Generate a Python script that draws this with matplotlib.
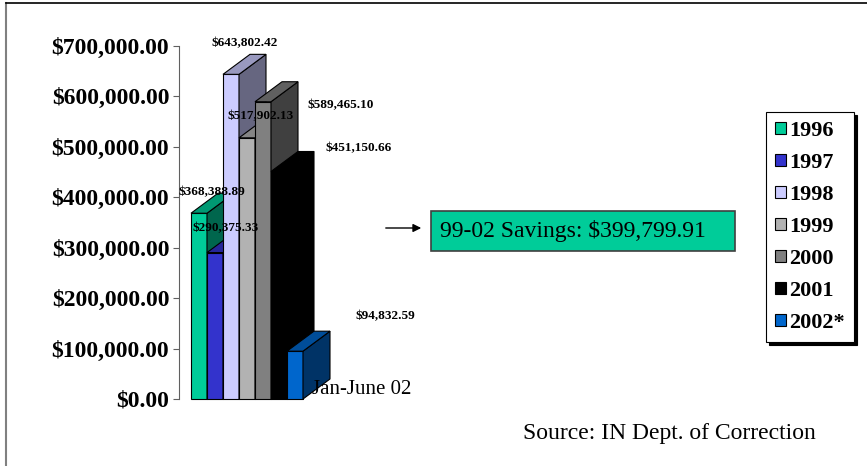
import matplotlib
matplotlib.use("Agg")
import matplotlib.pyplot as plt
from matplotlib.patches import Polygon, Rectangle, Patch, FancyArrowPatch
from matplotlib.lines import Line2D
from matplotlib.ticker import FuncFormatter
from matplotlib import colors as mcolors

years = ["1996", "1997", "1998", "1999", "2000", "2001", "2002*"]
costs = [368388.89, 290375.33, 643802.42, 517902.13, 589465.10, 451150.66, 94832.59]
bar_colors = ["#00CC99", "#3333CC", "#CCCCFF", "#B2B2B2", "#808080", "#000000", "#0066CC"]
category = "Jan-June 02"
savings_text = "99-02 Savings: $399,799.91"
source_text = "Source: IN Dept. of Correction"

# label offsets in pixels from the front top centre of each bar
label_offsets = [(13, 21), (11, 24), (14, 31), (14, 22), (78, -3), (80, 23), (90, 35)]

plt.rcParams["font.family"] = ["Liberation Serif", "DejaVu Serif"]

W, H = 867, 466
fig = plt.figure(figsize=(W / 100, H / 100), dpi=100)

# plot area in pixels
left_px, right_px, top_px, bottom_px = 179, 420, 46, 399
ax = fig.add_axes([left_px / W, 1 - bottom_px / H,
                   (right_px - left_px) / W, (bottom_px - top_px) / H])
unit_px = 16.0
x0 = -12 / unit_px
ax.set_xlim(x0, x0 + (right_px - left_px) / unit_px)
ax.set_ylim(0, 700000)

depth_x = 27 / unit_px
depth_y = 20 / (bottom_px - top_px) * 700000


def shade(c, f):
    r, g, b = mcolors.to_rgb(c)
    return (r * f, g * f, b * f)


for i, (v, c) in enumerate(zip(costs, bar_colors)):
    z = 2 + i
    bar = ax.bar(i, v, width=1, align="edge", color=c, edgecolor="black",
                 linewidth=0.8, zorder=z)
    bar[0].set_clip_on(False)
    side = Polygon([(i + 1, 0), (i + 1 + depth_x, depth_y),
                    (i + 1 + depth_x, v + depth_y), (i + 1, v)],
                   closed=True, facecolor=shade(c, 0.5), edgecolor="black",
                   linewidth=0.8, zorder=z, clip_on=False)
    top = Polygon([(i, v), (i + 1, v), (i + 1 + depth_x, v + depth_y),
                   (i + depth_x, v + depth_y)],
                  closed=True, facecolor=shade(c, 0.75), edgecolor="black",
                  linewidth=0.8, zorder=z, clip_on=False)
    ax.add_patch(side)
    ax.add_patch(top)
    dxo, dyo = label_offsets[i]
    ax.annotate(f"${v:,.2f}", xy=(i + 0.5, v), xytext=(dxo, dyo),
                textcoords="offset pixels", ha="center", va="center",
                fontsize=9.5, fontweight="bold", zorder=20,
                annotation_clip=False)

ax.yaxis.set_major_formatter(FuncFormatter(lambda v, p: f"${v:,.2f}"))
ax.set_yticks(range(0, 700001, 100000))
ax.set_xticks([])
for s in ["top", "right", "bottom"]:
    ax.spines[s].set_visible(False)
ax.spines["left"].set_color("#606060")
ax.tick_params(axis="y", direction="out", length=4, color="#606060",
               labelsize=17, pad=3)
for t in ax.get_yticklabels():
    t.set_fontweight("bold")
ax.patch.set_visible(False)

# category label
fig.text(362 / W, 1 - 390 / H, category, fontsize=15, ha="center", va="center")

# savings box and arrow
fig.patches.append(Rectangle((431 / W, 1 - 251 / H), 304 / W, 40 / H,
                             transform=fig.transFigure, facecolor="#00CC99",
                             edgecolor="#404040", linewidth=1.2))
fig.text(440 / W, 1 - 231 / H, savings_text, fontsize=17, ha="left", va="center")
fig.add_artist(FancyArrowPatch(
    (383 / W, 1 - 228 / H), (424 / W, 1 - 228 / H), transform=fig.transFigure,
    arrowstyle="-|>", mutation_scale=12, color="black", linewidth=1))

# source
fig.text(669 / W, 1 - 433 / H, source_text, fontsize=17, ha="center", va="center")

# legend
handles = [Patch(facecolor=c, edgecolor="black", linewidth=0.8) for c in bar_colors]
leg = fig.legend(handles, years, loc="upper left",
                 bbox_to_anchor=(766 / W, 1 - 112 / H),
                 prop={"size": 16, "weight": "bold"}, frameon=True,
                 fancybox=False,
                 shadow={"facecolor": "black", "edgecolor": "black", "alpha": 1,
                         "ox": 2.5, "oy": -2.5},
                 handlelength=0.5, handleheight=0.5, handletextpad=0.15,
                 labelspacing=0.54, borderpad=0.4, borderaxespad=0)
leg.get_frame().set_edgecolor("black")
leg.get_frame().set_linewidth(0.8)

# outer frame
fig.add_artist(Line2D([6 / W, 6 / W], [0, 1 - 3 / H], transform=fig.transFigure,
                      color="#808080", linewidth=1.5))
fig.add_artist(Line2D([6 / W, 1], [1 - 3 / H, 1 - 3 / H], transform=fig.transFigure,
                      color="black", linewidth=1.2))

fig.savefig("out.png", dpi=100)
